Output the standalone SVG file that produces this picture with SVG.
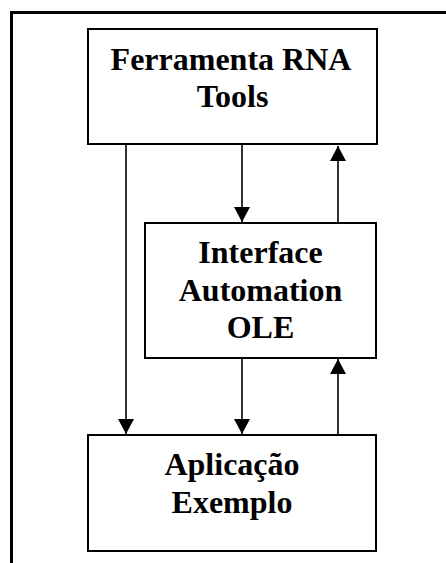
<svg xmlns="http://www.w3.org/2000/svg" width="446" height="563" viewBox="0 0 446 563">
<style>
.box{fill:#fff;stroke:#000;stroke-width:2}
.t{font-family:"Liberation Serif","Times New Roman",serif;font-weight:bold;font-size:32px;text-anchor:middle;fill:#000}
.c{stroke:#000;stroke-width:1.6;fill:none}
.frame{stroke:#000;stroke-width:3;fill:none}
</style>
<defs>
<marker id="ah" markerUnits="userSpaceOnUse" markerWidth="16" markerHeight="16" refX="15" refY="8" orient="auto">
<path d="M0,0 L15,8 L0,16 Z" fill="#000"/>
</marker>
</defs>
<path class="frame" d="M11.5,563 L11.5,12.5 L446,12.5"/>
<g id="n1">
<rect class="box" x="88" y="29" width="289" height="115"/>
<text class="t" x="231" y="70">Ferramenta RNA</text>
<text class="t" x="232.5" y="107">Tools</text>
</g>
<g id="n2">
<rect class="box" x="145" y="223" width="231" height="135"/>
<text class="t" x="260.5" y="263">Interface</text>
<text class="t" x="260.5" y="301">Automation</text>
<text class="t" x="260.5" y="338">OLE</text>
</g>
<g id="n3">
<rect class="box" x="88" y="435" width="288" height="116"/>
<text class="t" x="232" y="475">Aplicação</text>
<text class="t" x="232" y="513">Exemplo</text>
</g>
<g id="connectors">
<line class="c" x1="126" y1="145" x2="126" y2="434" marker-end="url(#ah)"/>
<line class="c" x1="242" y1="145" x2="242" y2="222" marker-end="url(#ah)"/>
<line class="c" x1="242" y1="359" x2="242" y2="434" marker-end="url(#ah)"/>
<line class="c" x1="338" y1="222" x2="338" y2="146" marker-end="url(#ah)"/>
<line class="c" x1="338" y1="434" x2="338" y2="359" marker-end="url(#ah)"/>
</g>
</svg>
